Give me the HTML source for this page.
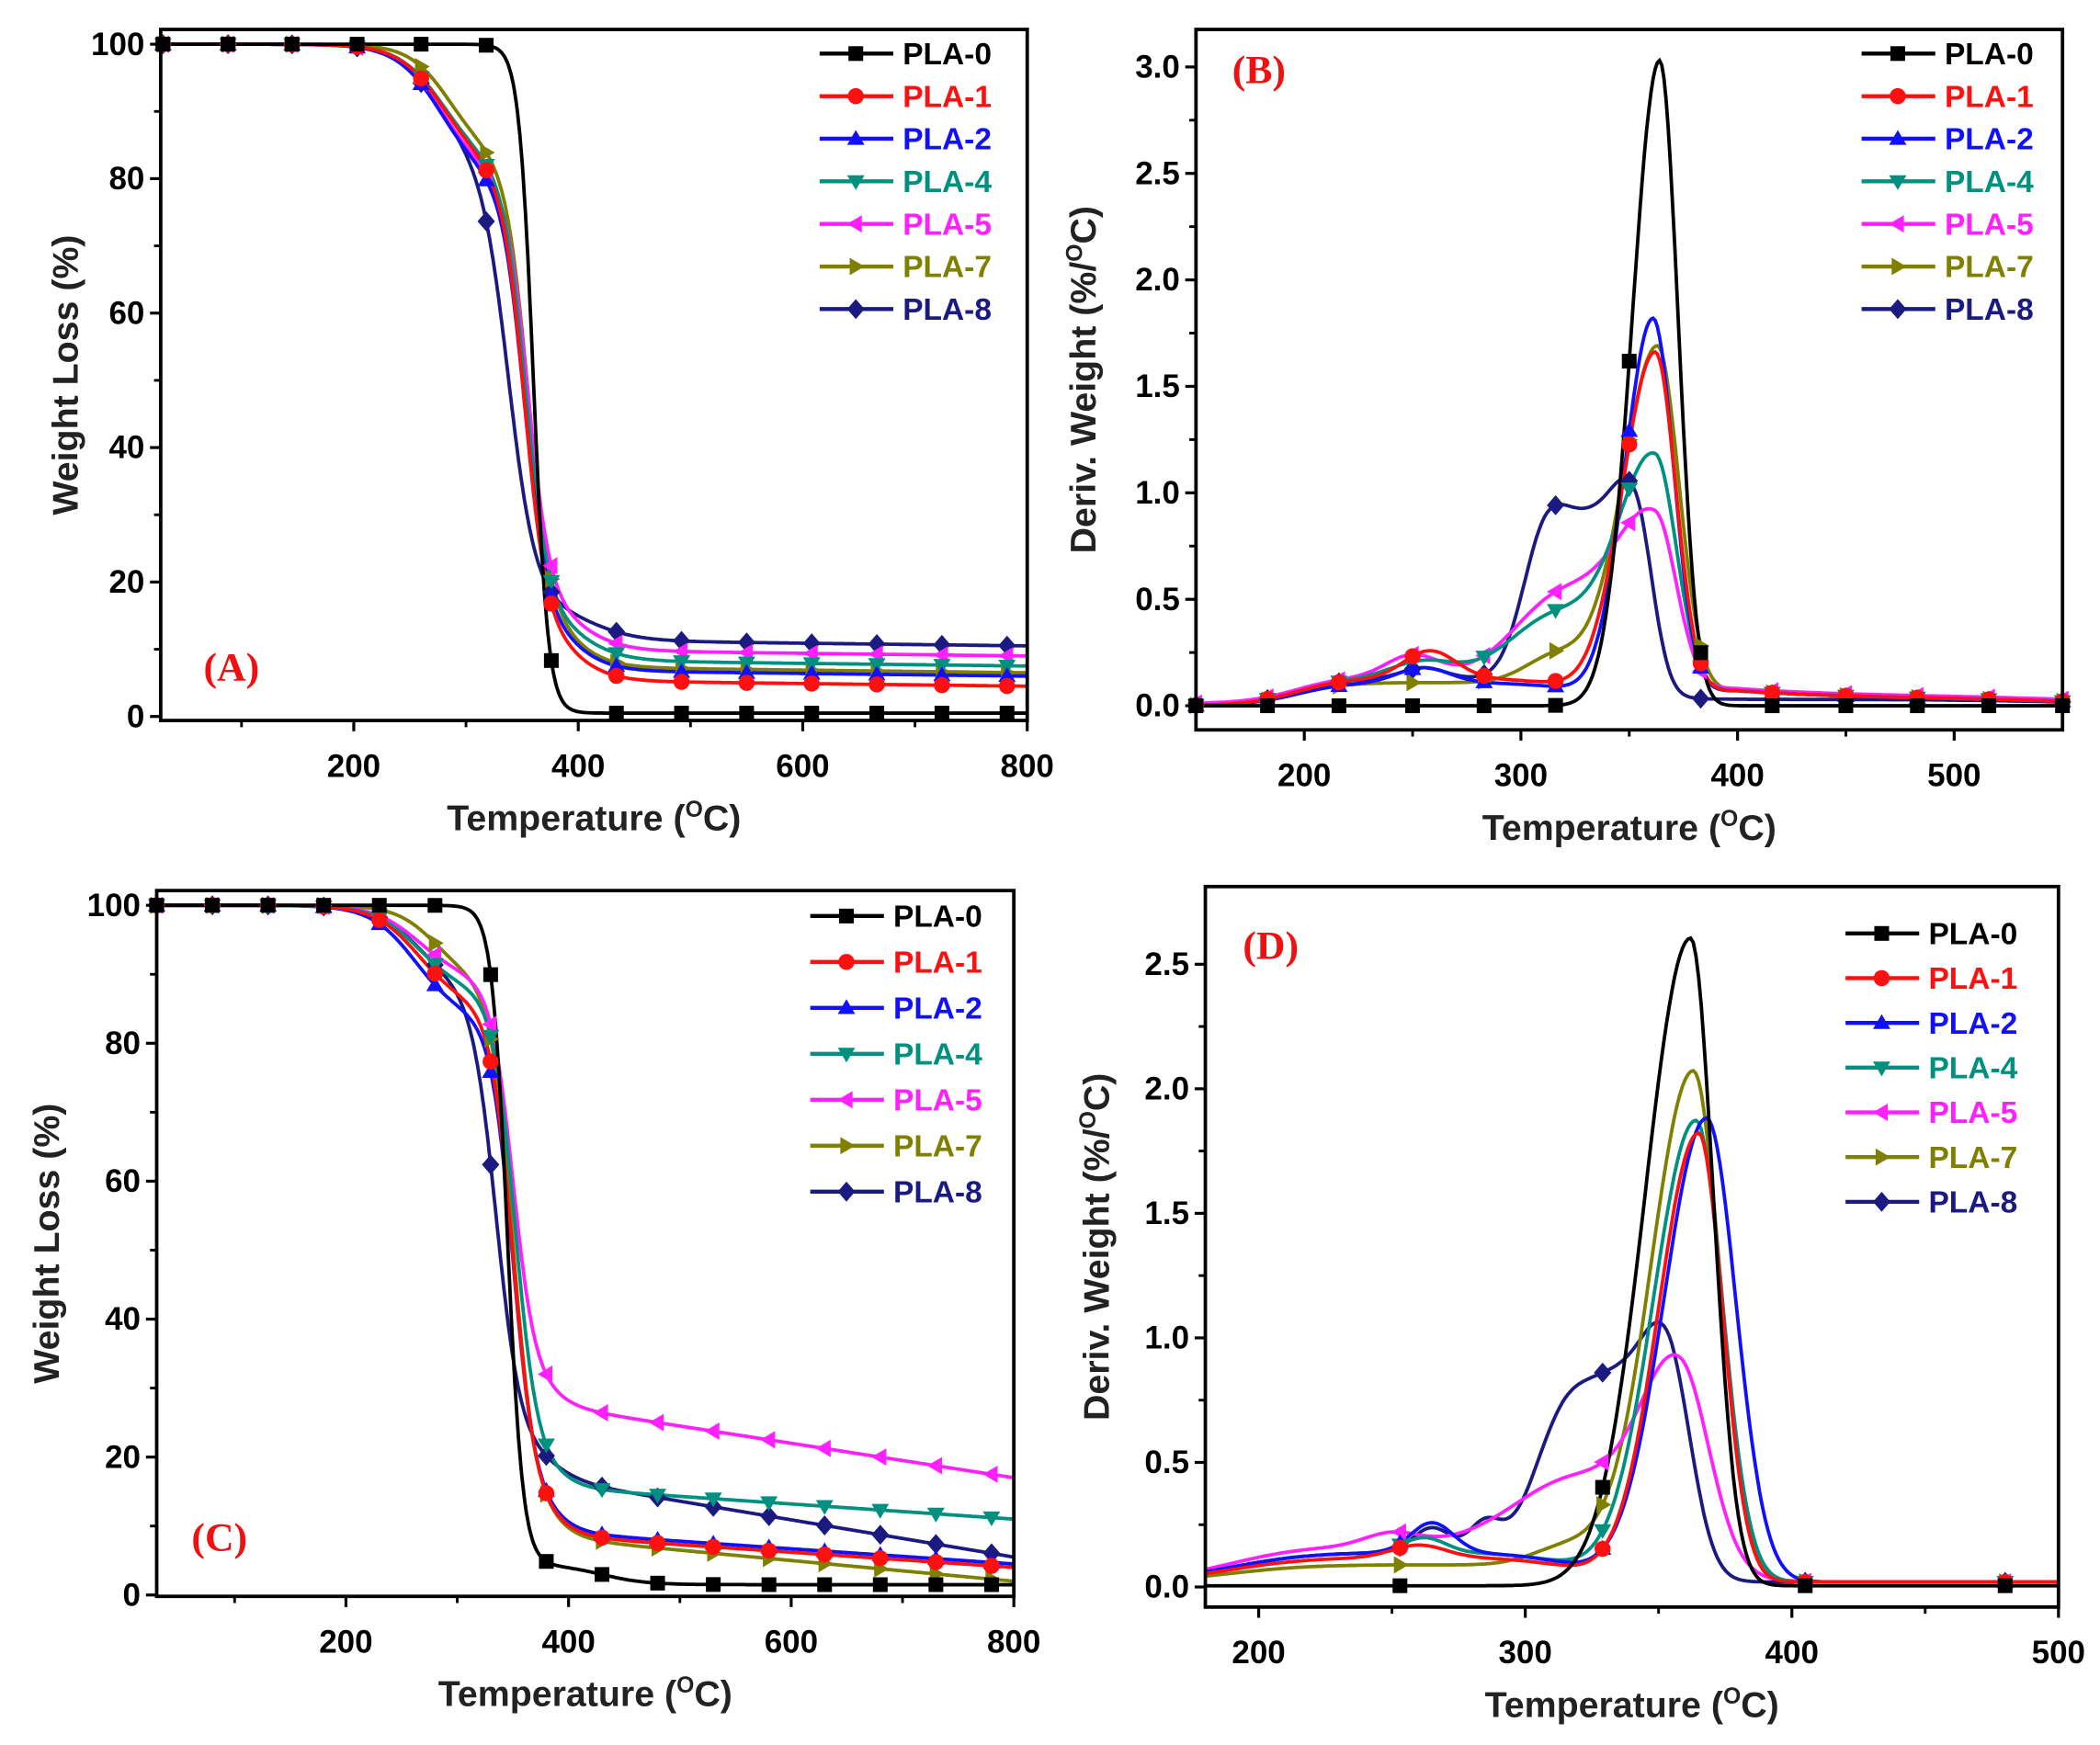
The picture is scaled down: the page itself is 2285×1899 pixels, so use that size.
<!DOCTYPE html>
<html><head><meta charset="utf-8"><style>
html,body{margin:0;padding:0;background:#fff}
svg{display:block}
text{font-family:"Liberation Sans",Arial,sans-serif;font-weight:bold}
</style></head><body>
<svg id="s" xmlns="http://www.w3.org/2000/svg" width="2285" height="1899" viewBox="0 0 1568 1303" preserveAspectRatio="none">
<rect width="1568" height="1303" fill="#fff"/>
</svg>
<script>
const S=document.getElementById('s');const NS='http://www.w3.org/2000/svg';
function el(n,a,t){const e=document.createElementNS(NS,n);for(const k in a)e.setAttribute(k,a[k]);if(t!==undefined)e.textContent=t;S.appendChild(e);return e;}
const COL=['#000000','#ff1010','#1010ff','#009080','#ff20ff','#808000','#1a1a80'];
const NAMES=['PLA-0','PLA-1','PLA-2','PLA-4','PLA-5','PLA-7','PLA-8'];
function sig(x){return 1/(1+Math.exp(-x));}
function g(T,a,c,sl,sr){const s=T<c?sl:(sr||sl);return a*Math.exp(-(T-c)*(T-c)/(2*s*s));}
function marker(k,x,y,c){const r=6.5;let p;
 if(k==0)el('rect',{x:x-r+1,y:y-r+1,width:2*r-2,height:2*r-2,fill:c});
 else if(k==1)el('circle',{cx:x,cy:y,r:r-0.5,fill:c});
 else{ if(k==2)p=[[x,y-r],[x+r,y+r*0.7],[x-r,y+r*0.7]];
 else if(k==3)p=[[x,y+r],[x+r,y-r*0.7],[x-r,y-r*0.7]];
 else if(k==4)p=[[x-r,y],[x+r*0.7,y-r],[x+r*0.7,y+r]];
 else if(k==5)p=[[x+r,y],[x-r*0.7,y-r],[x-r*0.7,y+r]];
 else p=[[x,y-r-1],[x+r,y],[x,y+r+1],[x-r,y]];
 el('polygon',{points:p.map(q=>q.join(',')).join(' '),fill:c});}
}
function panel(o){
 const tx=t=>o.x0+(t-o.t0)*(o.x1-o.x0)/(o.t1-o.t0);
 const ty=v=>o.yA+(v-o.vA)*(o.yB-o.yA)/(o.vB-o.vA);
 const id='c'+o.lab;const d=document.createElementNS(NS,'clipPath');d.setAttribute('id',id);
 const r=document.createElementNS(NS,'rect');r.setAttribute('x',o.x0);r.setAttribute('y',o.y0);r.setAttribute('width',o.x1-o.x0);r.setAttribute('height',o.y1-o.y0);d.appendChild(r);S.appendChild(d);
 const grp=el('g',{'clip-path':'url(#'+id+')'});
 for(let i=o.fns.length-1;i>=0;i--){
  const f=o.fns[i];let pts=[];
  for(let t=o.t0;t<=o.t1;t+=1)pts.push(tx(t).toFixed(1)+','+ty(f(t)).toFixed(1));
  const pl=document.createElementNS(NS,'polyline');pl.setAttribute('points',pts.join(' '));pl.setAttribute('fill','none');pl.setAttribute('stroke',COL[i]);pl.setAttribute('stroke-width','2.6');grp.appendChild(pl);
 }
 for(let i=o.fns.length-1;i>=0;i--){for(const t of o.mk){const x=tx(t),y=ty(o.fns[i](t));if(x>=o.x0-2&&x<=o.x1+2)marker(i,x,y,COL[i]);}}
 el('rect',{x:o.x0,y:o.y0,width:o.x1-o.x0,height:o.y1-o.y0,fill:'none',stroke:'#000','stroke-width':2.6});
 for(const t of o.xt){const x=tx(t);el('line',{x1:x,y1:o.y1,x2:x,y2:o.y1+8,stroke:'#000','stroke-width':2.2});el('text',{x:x,y:o.y1+42,'font-size':24,'text-anchor':'middle'},String(t));}
 for(const t of o.xm){const x=tx(t);el('line',{x1:x,y1:o.y1,x2:x,y2:o.y1+5,stroke:'#000','stroke-width':2});}
 for(const v of o.yt){const y=ty(v);el('line',{x1:o.x0,y1:y,x2:o.x0-8,y2:y,stroke:'#000','stroke-width':2.2});el('text',{x:o.x0-12,y:y+8,'font-size':24,'text-anchor':'end'},o.yf?v.toFixed(1):String(v));}
 for(const v of o.ym){const y=ty(v);el('line',{x1:o.x0,y1:y,x2:o.x0-5,y2:y,stroke:'#000','stroke-width':2});}
 const xl=el('text',{x:(o.x0+o.x1)/2,y:o.y1+82,'font-size':27,'text-anchor':'middle',fill:'#222'});
 xl.innerHTML='Temperature (<tspan dy="-10" font-size="17">O</tspan><tspan dy="10">C)</tspan>';
 const yl=el('text',{x:0,y:0,'font-size':27,'text-anchor':'middle',fill:'#222',transform:'translate('+o.ylx+','+((o.y0+o.y1)/2)+') rotate(-90)'});
 yl.innerHTML=o.ylab;
 el('text',{x:o.lx,y:o.ly,'font-size':30,fill:'#ee1111',style:'font-family:"Liberation Serif",serif;font-weight:bold'},'('+o.lab+')');
 for(let i=0;i<7;i++){const y=o.gy+i*o.gs;el('line',{x1:o.gx,y1:y,x2:o.gx+55,y2:y,stroke:COL[i],'stroke-width':3});marker(i,o.gx+27,y,COL[i]);
  el('text',{x:o.gx+62,y:y+8,'font-size':23,fill:COL[i]},NAMES[i]);}
}
function tga(res,k,p1,T1,w1,T2,w2,p3,T3,w3){return t=>{const r=res+k*Math.max(0,800-t);const S1=p1*sig((t-T1)/w1)+(1-p1-p3)*sig((t-T2)/w2)+p3*sig((t-T3)/w3);return r+(100-r)*(1-S1);};}
const fA=[tga(0.5,0,0,300,20,360,6.5,0,400,20),
 tga(4.5,0.002,0.2,280,20,352,10,0.08,395,18),
 tga(6,0.002,0.22,278,20,352,10,0.08,395,18),
 tga(7.5,0.002,0.2,280,20,353,10,0.08,400,20),
 tga(9,0.002,0.22,278,20,355,10,0.08,400,20),
 tga(6.5,0.002,0.18,285,18,355,10,0.08,395,18),
 tga(10.5,0.002,0.2,275,20,338,12,0.06,410,22)];
panel({lab:'A',x0:120,x1:767,y0:22,y1:538,t0:28,t1:800,yA:33,vA:100,yB:535,vB:0,fns:fA,
 mk:[30,88,145,203,260,318,376,434,492,550,608,666,724,782],xt:[200,400,600,800],xm:[100,300,500,700],yt:[0,20,40,60,80,100],ym:[10,30,50,70,90],
 ylx:58,ylab:'Weight Loss (%)',lx:152,ly:508,gx:612,gy:40,gs:31.8});
const fC=[tga(1.5,0,0,300,20,345,7,0.03,430,20),
 tga(4,0.011,0.16,265,20,350,10,0.05,385,15),
 tga(4.5,0.011,0.18,262,20,350,10,0.05,385,15),
 tga(11,0.011,0.15,265,20,352,10,0.04,390,15),
 tga(17,0.025,0.15,265,20,350,10,0.04,385,15),
 tga(2,0.015,0.12,280,18,350,10,0.05,385,15),
 tga(5.5,0.027,0.15,265,20,335,11,0.04,390,15)];
panel({lab:'C',x0:117,x1:757,y0:665,y1:1192,t0:30,t1:800,yA:676,vA:100,yB:1191,vB:0,fns:fC,
 mk:[30,80,130,180,230,280,330,380,430,480,530,580,630,680,730,780],xt:[200,400,600,800],xm:[100,300,500,700],yt:[0,20,40,60,80,100],ym:[10,30,50,70,90],
 ylx:44,ylab:'Weight Loss (%)',lx:143,ly:1158,gx:605,gy:684,gs:34.3});
function base(t,a){return a*sig((t-195)/12)*(1-sig((t-330)/15))+0.03*sig((t-200)/10)*(1-sig((t-560)/30));}
function tail(t){return 0.04*sig((t-380)/5)*Math.exp(-Math.max(0,t-400)/60);}
const fB=[t=>g(t,3.03,364,12.5,8.5),
 t=>g(t,1.62,362,15,9.5)+base(t,0.1)+g(t,0.13,258,12)+tail(t),
 t=>g(t,1.78,361,13,9.5)+base(t,0.08)+g(t,0.07,255,12)+tail(t),
 t=>g(t,1.1,362,17,10)+base(t,0.1)+g(t,0.08,255,15)+g(t,0.32,318,22)+tail(t),
 t=>g(t,0.8,362,18,10)+base(t,0.1)+g(t,0.1,250,12)+g(t,0.4,320,22)+tail(t)+0.01,
 t=>g(t,1.65,363,16,10)+base(t,0.08)+g(t,0.15,318,15)+tail(t),
 t=>g(t,0.7,312,11,12)+g(t,0.62,335,12)+g(t,0.75,353,10,8)+base(t,0.1)+g(t,0.05,255,10)];
panel({lab:'B',x0:893,x1:1540,y0:22,y1:545,t0:150,t1:550,yA:527,vA:0,yB:50,vB:3,fns:fB,yf:1,
 mk:[150,183,216,250,283,316,350,383,416,450,483,516,550],xt:[200,300,400,500],xm:[250,350,450],yt:[0,0.5,1,1.5,2,2.5,3],ym:[0.25,0.75,1.25,1.75,2.25,2.75],
 ylx:818,ylab:'Deriv. Weight (%/<tspan dy="-10" font-size="17">O</tspan><tspan dy="10">C)</tspan>',lx:920,ly:62,gx:1390,gy:40,gs:31.8});
function base2(t,a){return a*sig((t-190)/15)*(1-sig((t-320)/12))+0.02;}
const fD=[t=>g(t,2.6,362,17,8.5)+0.005,
 t=>g(t,1.8,365,15,9)+base2(t,0.1)+g(t,0.05,260,10),
 t=>g(t,1.86,368,16,11)+base2(t,0.12)+g(t,0.12,265,8),
 t=>g(t,1.85,364,16,10)+base2(t,0.12)+g(t,0.06,262,8),
 t=>g(t,0.75,358,14,11)+g(t,0.35,325,25)+base2(t,0.15)+g(t,0.05,250,10),
 t=>g(t,2.05,363,16,10)+base2(t,0.07)+g(t,0.1,318,14),
 t=>g(t,0.9,353,10,9)+g(t,0.5,335,10)+g(t,0.6,316,12)+base2(t,0.12)+g(t,0.1,265,7)+g(t,0.12,285,6)];
panel({lab:'D',x0:900,x1:1537,y0:662,y1:1200,t0:180,t1:500,yA:1185,vA:0,yB:720,vB:2.5,fns:fD,yf:1,
 mk:[253,329,405,480],xt:[200,300,400,500],xm:[250,350,450],yt:[0,0.5,1,1.5,2,2.5],ym:[0.25,0.75,1.25,1.75,2.25],
 ylx:828,ylab:'Deriv. Weight (%/<tspan dy="-10" font-size="17">O</tspan><tspan dy="10">C)</tspan>',lx:928,ly:716,gx:1378,gy:697,gs:33.4});
</script>
</body></html>
